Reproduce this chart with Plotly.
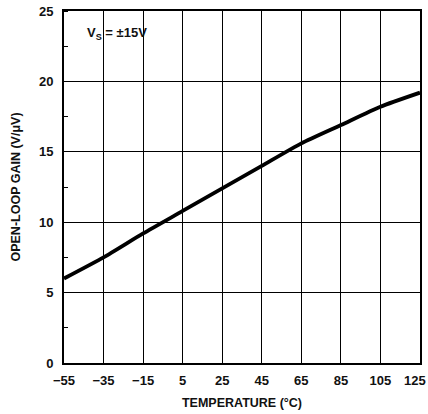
import plotly.graph_objects as go

# Open-loop gain vs temperature
temperature_c = [-55, -35, -15, 5, 25, 45, 65, 85, 105, 125]
gain_v_per_uv = [6.0, 7.5, 9.2, 10.8, 12.4, 14.0, 15.6, 16.9, 18.2, 19.2]

x_ticks = [-55, -35, -15, 5, 25, 45, 65, 85, 105, 125]
y_ticks = [0, 5, 10, 15, 20, 25]

FONT = "Liberation Sans, Arial, sans-serif"
tick_font = dict(family=FONT, size=13, color="#111", weight="bold")
title_font = dict(family=FONT, size=12.5, color="#111", weight="bold")


def fmt(v):
    return str(v).replace("-", "\u2212")


fig = go.Figure()
fig.add_trace(go.Scatter(
    x=temperature_c, y=gain_v_per_uv, mode="lines",
    line=dict(color="black", width=3.8, shape="spline", smoothing=0.6),
    showlegend=False, hoverinfo="skip",
))

axis_common = dict(
    showline=True, linecolor="black", linewidth=2, mirror=True,
    showgrid=True, gridcolor="black", gridwidth=1,
    zeroline=False, ticks="",
    tickfont=tick_font,
)

# the last x label sits at the right page edge (on the frame line), so it is
# placed as an annotation aligned to its right end instead of centred on a tick
fig.update_xaxes(
    range=[-55, 125], tickvals=x_ticks[:-1],
    ticktext=[fmt(v) for v in x_ticks[:-1]],
    title=dict(text="TEMPERATURE (°C)", font=title_font, standoff=12),
    ticklabelstandoff=4,
    **axis_common,
)
fig.add_annotation(
    x=x_ticks[-1], xref="x", y=0, yref="paper",
    xanchor="right", yanchor="top", xshift=8, yshift=-8,
    text=fmt(x_ticks[-1]), showarrow=False, font=tick_font,
)

fig.update_yaxes(
    range=[0, 25], tickvals=y_ticks,
    title=dict(text="OPEN-LOOP GAIN (V/μV)", font=title_font, standoff=16),
    minor=dict(ticks="inside", ticklen=4, tickcolor="black", dtick=2.5, showgrid=False),
    ticklabelstandoff=6,
    **axis_common,
)

fig.add_annotation(
    x=0.06, y=0.935, xref="paper", yref="paper", xanchor="left", yanchor="middle",
    text="V<sub>S</sub> = ±15V", showarrow=False,
    font=dict(family=FONT, size=13, color="#111", weight="bold"),
)

fig.update_layout(
    width=428, height=414,
    margin=dict(l=64, r=8, t=11, b=51, autoexpand=False),
    paper_bgcolor="white", plot_bgcolor="white",
    font=dict(family=FONT, size=12, color="#111"),
)

fig.write_html("out.html")
